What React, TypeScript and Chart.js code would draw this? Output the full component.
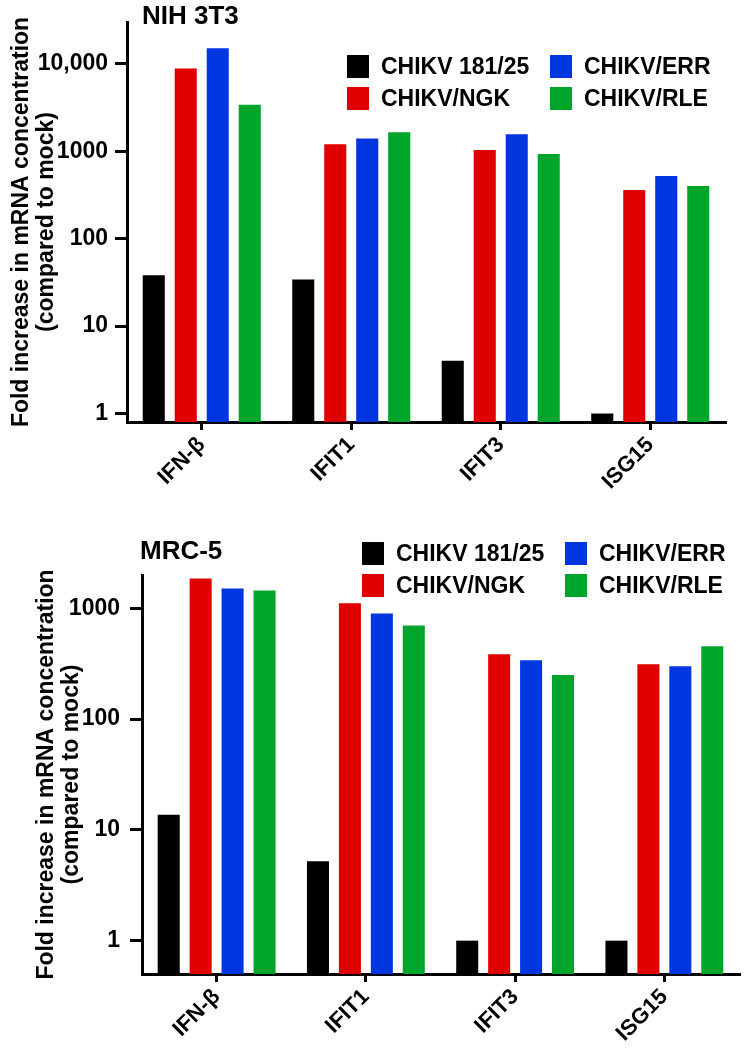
import React, { useEffect, useRef } from 'react';
import { Chart, registerables } from 'chart.js';

Chart.register(...registerables);

// ---------------- data ----------------
const CATEGORIES = ['IFN-β', 'IFIT1', 'IFIT3', 'ISG15'];
const SERIES_LABELS = ['CHIKV 181/25', 'CHIKV/NGK', 'CHIKV/ERR', 'CHIKV/RLE'];
const SERIES_COLORS = ['#000000', '#e10000', '#0036e0', '#00a52c'];

// NIH 3T3
const NIH_181_25 = [38, 34, 4.0, 1.0];
const NIH_NGK = [8800, 1200, 1030, 360];
const NIH_ERR = [15000, 1400, 1560, 520];
const NIH_RLE = [3400, 1650, 930, 400];
const NIH_TICKS = [1, 10, 100, 1000, 10000];

// MRC-5
const MRC_181_25 = [13.7, 5.2, 1.0, 1.0];
const MRC_NGK = [1860, 1110, 385, 313];
const MRC_ERR = [1510, 900, 340, 300];
const MRC_RLE = [1450, 700, 250, 455];
const MRC_TICKS = [1, 10, 100, 1000];

const Y_TITLE = ['Fold increase in mRNA concentration', '(compared to mock)'];

const FONT = '"Liberation Sans", Arial, Helvetica, sans-serif';

// ---------------- overlay plugin (panel title + 2-column legend) ----------------
const overlayPlugin = {
  id: 'overlay',
  afterDraw(chart: any, _args: any, opts: any) {
    const ctx = chart.ctx;
    const area = chart.chartArea;
    ctx.save();
    ctx.fillStyle = '#000';
    ctx.textAlign = 'left';
    ctx.textBaseline = 'alphabetic';
    ctx.font = `bold ${opts.titleSize}px ${FONT}`;
    ctx.fillText(opts.title, area.left + opts.titleDx, opts.titleBaseline);

    ctx.font = `bold ${opts.legendSize}px ${FONT}`;
    chart.data.datasets.forEach((ds: any, i: number) => {
      const col = Math.floor(i / 2);
      const row = i % 2;
      const x = area.left + opts.legendDx + col * opts.colGap;
      const y = opts.legendTop + row * opts.rowGap;
      ctx.fillStyle = ds.backgroundColor;
      ctx.fillRect(x, y, opts.boxW, opts.boxH);
      ctx.fillStyle = '#000';
      ctx.fillText(ds.label, x + opts.textDx, y + opts.textBaseline);
    });
    ctx.restore();
  },
};

type PanelCfg = {
  title: string;
  series: number[][];
  ticks: number[];
  min: number;
  max: number;
  padTop: number;
  padRight: number;
  yWidth: number;
  xHeight: number;
  yTickPad: number;
  yTitlePad: number;
  titleDx: number;
  titleBaseline: number;
  legendTop: number;
};

const W = 746;
const H = 525;

function BarPanel({ cfg }: { cfg: PanelCfg }) {
  const ref = useRef<HTMLCanvasElement>(null);
  useEffect(() => {
    const chart = new Chart(ref.current as HTMLCanvasElement, {
      type: 'bar',
      data: {
        labels: CATEGORIES,
        datasets: cfg.series.map((d, i) => ({
          label: SERIES_LABELS[i],
          data: d,
          backgroundColor: SERIES_COLORS[i],
          borderWidth: 0,
          categoryPercentage: 0.856,
          barPercentage: 0.69,
        })),
      },
      options: {
        responsive: false,
        animation: false,
        devicePixelRatio: 1,
        layout: { padding: { top: cfg.padTop, right: cfg.padRight, left: 0, bottom: 0 } },
        plugins: {
          legend: { display: false },
          tooltip: { enabled: false },
          // @ts-ignore
          overlay: {
            title: cfg.title,
            titleSize: 26,
            titleDx: cfg.titleDx,
            titleBaseline: cfg.titleBaseline,
            legendSize: 23,
            legendDx: 220,
            legendTop: cfg.legendTop,
            colGap: 203,
            rowGap: 32,
            boxW: 22,
            boxH: 23,
            textDx: 34,
            textBaseline: 19,
          },
        },
        scales: {
          x: {
            type: 'category',
            offset: true,
            grid: {
              display: true,
              drawOnChartArea: false,
              drawTicks: true,
              offset: false,
              tickLength: 8,
              tickWidth: 3,
              tickColor: '#000',
              color: '#000',
              lineWidth: 3,
            },
            border: { display: true, color: '#000', width: 3 },
            ticks: {
              color: '#000',
              font: { family: FONT, size: 22, weight: 'bold' },
              minRotation: 45,
              maxRotation: 45,
              autoSkip: false,
              padding: 2,
            },
            afterFit: (s: any) => {
              s.height = cfg.xHeight;
            },
          },
          y: {
            type: 'logarithmic',
            min: cfg.min,
            max: cfg.max,
            grid: {
              display: true,
              drawOnChartArea: false,
              drawTicks: true,
              tickLength: 12,
              tickWidth: 3,
              tickColor: '#000',
              color: '#000',
              lineWidth: 3,
            },
            border: { display: true, color: '#000', width: 3 },
            ticks: {
              color: '#000',
              padding: cfg.yTickPad,
              font: { family: FONT, size: 23, weight: 'bold' },
              callback: (v: any) => (Number(v) === 10000 ? '10,000' : String(v)),
            },
            afterBuildTicks: (s: any) => {
              s.ticks = cfg.ticks.map((v) => ({ value: v }));
            },
            afterFit: (s: any) => {
              s.width = cfg.yWidth;
            },
            title: {
              display: true,
              text: Y_TITLE,
              color: '#000',
              font: { family: FONT, size: 23, weight: 'bold', lineHeight: 1.09 },
              padding: { top: cfg.yTitlePad, bottom: 0 },
            },
          },
        },
      },
      plugins: [overlayPlugin],
    } as any);
    return () => chart.destroy();
  }, []);
  return (
    <canvas
      ref={ref}
      width={W}
      height={H}
      style={{ display: 'block', width: W, height: H }}
    />
  );
}

const NIH_CFG: PanelCfg = {
  title: 'NIH 3T3',
  series: [NIH_181_25, NIH_NGK, NIH_ERR, NIH_RLE],
  ticks: NIH_TICKS,
  min: 0.8,
  max: 30000,
  padTop: 22,
  padRight: 21,
  yWidth: 127,
  xHeight: 103,
  yTickPad: 7,
  yTitlePad: 9,
  titleDx: 15,
  titleBaseline: 24,
  legendTop: 55,
};

const MRC_CFG: PanelCfg = {
  title: 'MRC-5',
  series: [MRC_181_25, MRC_NGK, MRC_ERR, MRC_RLE],
  ticks: MRC_TICKS,
  min: 0.5,
  max: 2000,
  padTop: 50,
  padRight: 7,
  yWidth: 142,
  xHeight: 76,
  yTickPad: 10,
  yTitlePad: 34,
  titleDx: -2,
  titleBaseline: 34,
  legendTop: 17,
};

export default function App() {
  return (
    <div style={{ position: 'absolute', left: 0, top: 0, width: W, height: 2 * H, background: '#fff' }}>
      <BarPanel cfg={NIH_CFG} />
      <BarPanel cfg={MRC_CFG} />
    </div>
  );
}
